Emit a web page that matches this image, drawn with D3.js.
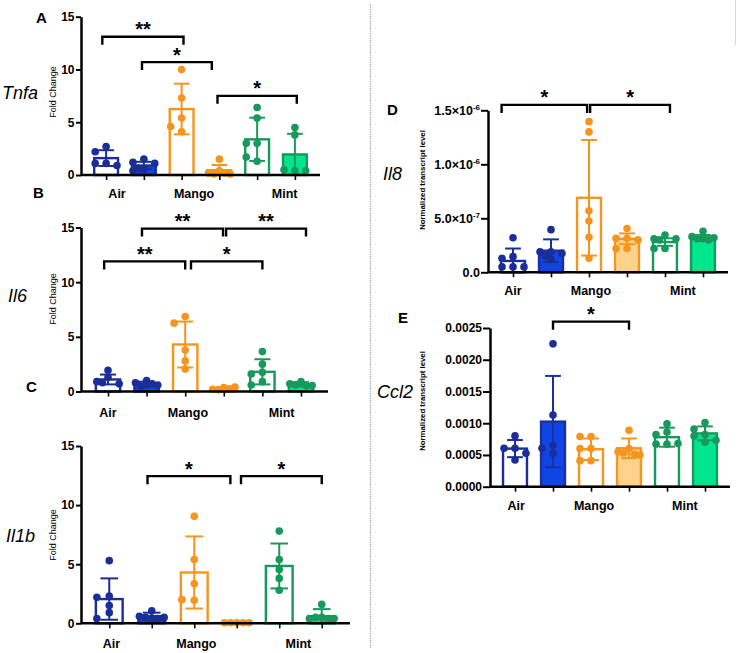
<!DOCTYPE html>
<html><head><meta charset="utf-8">
<script src="https://cdn.jsdelivr.net/npm/d3@7"></script>
<style>body{margin:0;background:#fff}svg{display:block}</style>
</head><body>
<svg id="chart" width="738" height="653"></svg>
<script>
// ---------------- DATA ----------------
const groups = ["Air", "Air+", "Mango", "Mango+", "Mint", "Mint+"];
const categoryLabels = ["Air", "Mango", "Mint"];
const foldTicks = [0, 5, 10, 15];
const il8Ticks = [0, 5e-7, 1e-6, 1.5e-6];
const ccl2Ticks = [0, 0.0005, 0.0010, 0.0015, 0.0020, 0.0025];

// Tnfa (A)
const tnfaMean = [1.6, 0.9, 6.25, 0.45, 3.38, 1.95];
const tnfaSD = [0.75, 0.35, 2.4, 0.5, 2.05, 1.95];
const tnfaPoints = [
  [2.7, 2.2, 1.1, 1.1, 0.9],
  [1.5, 1.2, 1.1, 0.5, 0.4, 0.6],
  [10.0, 7.3, 5.4, 4.1, 4.6],
  [1.5, 0.4, 0.2, 0.1, 0.1, 0.2],
  [6.4, 5.4, 3.0, 3.0, 1.3, 1.7],
  [4.5, 3.8, 0.4, 0.5, 0.4]
];
const tnfaSig = [[-0.1, 2.05, 13.1, "**"], [0.95, 2.8, 10.7, "*"], [2.95, 5.05, 7.5, "*"]];

// Il6 (B)
const il6Mean = [1.1, 0.7, 4.3, 0.25, 1.8, 0.65];
const il6SD = [0.45, 0.2, 2.1, 0.12, 1.15, 0.2];
const il6Points = [
  [1.95, 1.3, 0.9, 0.7, 0.8],
  [1.0, 0.8, 0.6, 0.5, 0.7, 0.6],
  [6.85, 6.25, 3.8, 2.8, 2.05],
  [0.35, 0.2, 0.4, 0.15, 0.25],
  [3.65, 2.5, 1.75, 1.6, 0.9, 0.6],
  [0.9, 0.7, 0.55, 0.6, 0.5]
];
const il6Sig = [[0.88, 2.98, 14.9, "**"], [3.06, 5.13, 14.9, "**"], [-0.1, 2.0, 11.9, "**"], [2.15, 4.0, 11.9, "*"]];

// Il1b (C)
const il1bMean = [2.05, 0.6, 4.3, 0.05, 4.85, 0.6];
const il1bSD = [1.75, 0.3, 3.05, 0.02, 1.9, 0.6];
const il1bPoints = [
  [5.3, 2.3, 2.2, 1.5, 0.9, 0.4],
  [1.05, 0.6, 0.5, 0.4, 0.5, 0.4],
  [9.05, 5.4, 3.35, 1.95, 2.0],
  [0.05, 0.05, 0.05, 0.05, 0.05],
  [7.8, 5.4, 4.55, 3.8, 2.8],
  [1.6, 0.5, 0.4, 0.4, 0.5, 0.3]
];
const il1bSig = [[0.9, 2.85, 12.45, "*"], [3.1, 5.0, 12.45, "*"]];

// Il8 (D)
const il8Mean = [1.05e-7, 2.0e-7, 6.9e-7, 3.1e-7, 2.8e-7, 3.2e-7];
const il8SD = [1.15e-7, 1.05e-7, 5.35e-7, 0.5e-7, 0.35e-7, 0.25e-7];
const il8Points = [
  [3.2e-7, 1.45e-7, 1.3e-7, 0.5e-7, 0.5e-7, 0.5e-7],
  [3.95e-7, 1.9e-7, 1.9e-7, 1.75e-7, 1.5e-7, 1.2e-7],
  [13.95e-7, 13.0e-7, 5.7e-7, 4.75e-7, 3.24e-7, 1.3e-7],
  [4.05e-7, 3.15e-7, 3.15e-7, 3.0e-7, 2.2e-7, 2.2e-7],
  [3.45e-7, 3.1e-7, 3.1e-7, 2.2e-7, 2.2e-7, 3.0e-7],
  [3.8e-7, 3.3e-7, 3.2e-7, 3.1e-7, 3.1e-7, 3.0e-7]
];
const il8Sig = [[-0.3, 1.95, 1.55e-6, "*"], [2.03, 4.13, 1.55e-6, "*"]];

// Ccl2 (E)
const ccl2Mean = [0.00060, 0.001025, 0.00059, 0.000605, 0.00078, 0.00084];
const ccl2SD = [0.000135, 0.00072, 0.00017, 0.000155, 0.00015, 0.00011];
const ccl2Points = [
  [0.00080, 0.000605, 0.000605, 0.000525, 0.00042],
  [0.00225, 0.00113, 0.00065, 0.000605, 0.000525],
  [0.00079, 0.00079, 0.00060, 0.00060, 0.00041, 0.00041],
  [0.00089, 0.00060, 0.00055, 0.00050, 0.00053, 0.00051],
  [0.00099, 0.00086, 0.00082, 0.00067, 0.00067, 0.00068],
  [0.00101, 0.00091, 0.00082, 0.00080, 0.00073, 0.00070]
];
const ccl2Sig = [[1.0, 3.0, 0.0026, "*"]];

// ---------------- STYLE ----------------
const fills = ["#ffffff", "#0f45e6", "#ffffff", "#fdd38b", "#ffffff", "#00e68e"];
const strokes = ["#1b2d96", "#1b2f9e", "#f7941d", "#f7941d", "#17995b", "#17995b"];
const dotColors = ["#1b2d96", "#1b2d96", "#f7941d", "#f7941d", "#17995b", "#17995b"];
const FONT = "'Liberation Sans', Arial, sans-serif";

const svg = d3.select("#chart");

// divider
svg.append("line").attr("x1", 370.5).attr("x2", 370.5).attr("y1", 4).attr("y2", 648)
  .attr("stroke", "#9a9a9a").attr("stroke-width", 1.2).attr("stroke-dasharray", "1.2,1.2");
svg.append("line").attr("x1", 735.5).attr("x2", 735.5).attr("y1", 0).attr("y2", 45)
  .attr("stroke", "#d8d8d8").attr("stroke-width", 1);

function supFormat(sel) {
  sel.each(function(d) {
    const t = d3.select(this);
    t.text(null);
    if (d === 0) { t.text("0.0"); return; }
    let e = Math.floor(Math.log10(d) + 1e-9);
    const m = (d / Math.pow(10, e)).toFixed(1);
    t.append("tspan").text(m + "\u00d710");
    t.append("tspan").attr("dy", -5).attr("font-size", 8).text("-" + (-e));
  });
}

function drawPanel(p) {
  const L = p.layout;
  const g = svg.append("g");
  const x = d3.scalePoint().domain(d3.range(groups.length)).range([L.x0, L.x1]).padding(L.pad);
  const step = x.step();
  const xf = i => x(0) + i * step;
  const y = d3.scaleLinear().domain([0, p.max]).range([L.yBottom, L.yTop]);
  const bw = step * 0.63;

  // bars
  g.selectAll("rect.bar").data(p.mean).join("rect").attr("class", "bar")
    .attr("x", (d, i) => x(i) - bw / 2).attr("y", d => y(d))
    .attr("width", bw).attr("height", d => Math.max(0, y(0) - y(d)))
    .attr("fill", (d, i) => fills[i]).attr("stroke", (d, i) => strokes[i]).attr("stroke-width", 2.4);

  // error bars
  const cap = bw * 0.33;
  p.mean.forEach((m, i) => {
    const s = p.sd[i];
    const lo = Math.max(0, m - s), hi = m + s;
    const eg = g.append("g").attr("stroke", strokes[i]).attr("stroke-width", 2).attr("fill", "none");
    eg.append("line").attr("x1", x(i)).attr("x2", x(i)).attr("y1", y(lo)).attr("y2", y(hi));
    eg.append("line").attr("x1", x(i) - cap).attr("x2", x(i) + cap).attr("y1", y(hi)).attr("y2", y(hi));
    eg.append("line").attr("x1", x(i) - cap).attr("x2", x(i) + cap).attr("y1", y(lo)).attr("y2", y(lo));
  });

  // dots (simple swarm)
  const r = 3.8;
  const w = bw / 2 - 1;
  p.points.forEach((vals, i) => {
    const placed = [];
    vals.forEach(v => {
      const py = y(v);
      const cands = [0, -w, w, -w / 2, w / 2, -w * 0.75, w * 0.75];
      let off = 0;
      for (const c of cands) {
        const hit = placed.some(q => Math.abs(q.x - c) < 2 * r * 0.7 && Math.abs(q.y - py) < 2 * r * 0.9);
        if (!hit) { off = c; break; }
      }
      placed.push({ x: off, y: py });
    });
    g.selectAll(null).data(placed).join("circle")
      .attr("cx", d => x(i) + d.x).attr("cy", d => d.y).attr("r", r)
      .attr("fill", dotColors[i]);
  });

  // axes
  const yAxis = d3.axisLeft(y).tickValues(p.ticks).tickSize(L.tickLen).tickPadding(L.tickPad).tickSizeOuter(0);
  if (p.tickFmt) yAxis.tickFormat(p.tickFmt);
  const ya = g.append("g").attr("transform", `translate(${L.x0},0)`).call(yAxis);
  ya.select(".domain").attr("stroke", "#000").attr("stroke-width", 2.5);
  ya.selectAll(".tick line").attr("stroke", "#000").attr("stroke-width", 2);
  ya.selectAll(".tick text").attr("font-family", FONT).attr("font-weight", "bold")
    .attr("font-size", L.tickFont).attr("fill", "#000");
  if (p.sup) supFormat(ya.selectAll(".tick text"));

  const xAxis = d3.axisBottom(x).tickSize(5).tickSizeOuter(0).tickFormat("");
  const xa = g.append("g").attr("transform", `translate(0,${L.yBottom})`).call(xAxis);
  xa.select(".domain").attr("stroke", "#000").attr("stroke-width", 2.5).attr("d", `M${L.x0},0H${L.x1}`);
  xa.selectAll(".tick line").attr("stroke", "#000").attr("stroke-width", 1.6);

  // category labels
  g.selectAll("text.cat").data(categoryLabels).join("text").attr("class", "cat")
    .attr("x", (d, k) => xf(L.catPos[k])).attr("y", L.yBottom + L.catDy)
    .attr("text-anchor", "middle").attr("font-family", FONT).attr("font-weight", "bold")
    .attr("font-size", 12.5).text(d => d);

  // significance brackets
  p.sig.forEach(([a, b, v, lab]) => {
    const by = y(v);
    g.append("path").attr("d", `M${xf(a)},${by + 8}V${by}H${xf(b)}V${by + 8}`)
      .attr("fill", "none").attr("stroke", "#000").attr("stroke-width", 2.4);
    g.append("text").attr("x", (xf(a) + xf(b)) / 2).attr("y", by - 0.5)
      .attr("text-anchor", "middle").attr("font-family", FONT).attr("font-weight", "bold")
      .attr("font-size", 20).text(lab);
  });

  // y title
  g.append("text").attr("transform", `translate(${L.titleX},${L.titleY}) rotate(-90)`)
    .attr("text-anchor", "middle").attr("font-family", FONT)
    .attr("font-weight", p.titleBold ? "bold" : "normal")
    .attr("font-size", p.titleSize).text(p.title);

  // panel letter
  g.append("text").attr("x", L.letterX).attr("y", L.letterY).attr("font-family", FONT)
    .attr("font-weight", "bold").attr("font-size", 15).text(p.letter);

  // gene name
  g.append("text").attr("x", L.geneX).attr("y", L.geneY).attr("font-family", FONT)
    .attr("font-style", "italic").attr("font-size", 18).text(p.gene);
}

drawPanel({
  letter: "A", gene: "Tnfa", title: "Fold Change", titleSize: 9, max: 15, ticks: foldTicks,
  mean: tnfaMean, sd: tnfaSD, points: tnfaPoints, sig: tnfaSig,
  layout: { x0: 81, x1: 320, pad: 0.665, yTop: 16.7, yBottom: 175, tickLen: 5, tickPad: 1.5, tickFont: 12,
    catPos: [0.29, 2.33, 4.73], catDy: 23, titleX: 56, titleY: 92, letterX: 36, letterY: 23, geneX: 2, geneY: 99 }
});
drawPanel({
  letter: "B", gene: "Il6", title: "Fold Change", titleSize: 9, max: 15, ticks: foldTicks,
  mean: il6Mean, sd: il6SD, points: il6Points, sig: il6Sig,
  layout: { x0: 81, x1: 328, pad: 0.7, yTop: 227.5, yBottom: 391.5, tickLen: 5, tickPad: 1.5, tickFont: 12,
    catPos: [0.0, 2.07, 4.5], catDy: 25, titleX: 56, titleY: 299, letterX: 33, letterY: 198, geneX: 8, geneY: 302 }
});
drawPanel({
  letter: "C", gene: "Il1b", title: "Fold Change", titleSize: 9, max: 15, ticks: foldTicks,
  mean: il1bMean, sd: il1bSD, points: il1bPoints, sig: il1bSig,
  layout: { x0: 81, x1: 350, pad: 0.665, yTop: 446, yBottom: 623.3, tickLen: 5, tickPad: 1.5, tickFont: 12,
    catPos: [0.05, 2.05, 4.45], catDy: 25, titleX: 56, titleY: 535, letterX: 26, letterY: 392, geneX: 6, geneY: 542 }
});
drawPanel({
  letter: "D", gene: "Il8", title: "Normalized transcript level", titleSize: 7.8, titleBold: true,
  max: 1.5e-6, ticks: il8Ticks, sup: true,
  mean: il8Mean, sd: il8SD, points: il8Points, sig: il8Sig,
  layout: { x0: 488, x1: 728, pad: 0.658, yTop: 110.3, yBottom: 272.3, tickLen: 7, tickPad: 1, tickFont: 12.5,
    catPos: [0.0, 2.05, 4.47], catDy: 23, titleX: 425, titleY: 180, letterX: 387, letterY: 115, geneX: 383, geneY: 180 }
});
drawPanel({
  letter: "E", gene: "Ccl2", title: "Normalized transcript level", titleSize: 7.8, titleBold: true,
  max: 0.0025, ticks: ccl2Ticks, tickFmt: d3.format(".4f"),
  mean: ccl2Mean, sd: ccl2SD, points: ccl2Points, sig: ccl2Sig,
  layout: { x0: 490, x1: 730, pad: 0.658, yTop: 328, yBottom: 486.7, tickLen: 7, tickPad: 1, tickFont: 12,
    catPos: [0.03, 2.08, 4.47], catDy: 23, titleX: 425, titleY: 401, letterX: 398, letterY: 323, geneX: 377, geneY: 398 }
});
</script>
</body></html>
